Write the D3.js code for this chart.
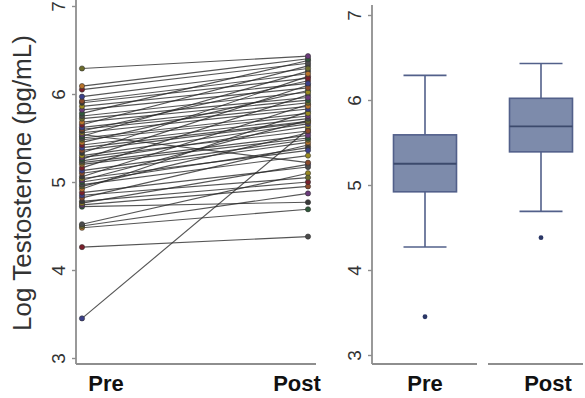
<!DOCTYPE html>
<html><head><meta charset="utf-8">
<script src="https://cdn.jsdelivr.net/npm/d3@7"></script>
<style>body{margin:0;background:#fff;} svg{display:block;}</style>
</head><body>
<svg id="c" width="585" height="398"></svg>
<script>
const groups = ["Pre", "Post"];
const yTicks = [3, 4, 5, 6, 7];
const preValues = [3.45,4.26,4.48,4.50,4.52,4.72,4.74,4.76,4.78,4.82,4.85,4.88,4.92,4.95,4.97,5.00,5.02,5.04,5.06,5.10,5.13,5.16,5.20,5.22,5.24,5.26,5.28,5.30,5.33,5.36,5.39,5.42,5.45,5.48,5.50,5.52,5.54,5.56,5.58,5.60,5.62,5.65,5.68,5.72,5.75,5.78,5.82,5.86,5.90,5.92,5.97,6.05,6.09,6.29];
const postValues = [5.60,4.38,4.69,4.87,5.10,4.77,4.95,5.20,5.00,5.42,5.05,5.17,5.80,5.56,5.30,5.39,5.70,5.36,5.88,5.45,5.48,5.99,5.50,5.53,5.63,6.10,5.58,5.66,6.20,5.68,5.69,5.72,6.04,5.75,5.78,6.26,5.22,5.83,6.15,5.86,5.90,6.32,5.93,5.96,6.02,6.38,6.07,6.12,6.18,6.23,6.29,6.35,6.40,6.43];
const dotColors = ["#3b3f8a","#7a1f2b","#b8732a","#6b6b2a","#4a4a4a","#2f5a3a","#6a3a7a","#9a8a20","#3a3a3a","#8a4a2a"];
// boxplot summary
const boxLow = [4.27, 4.69];
const boxQ1 = [4.92, 5.39];
const boxMedian = [5.25, 5.69];
const boxQ3 = [5.59, 6.02];
const boxHigh = [6.29, 6.43];
const boxOutliers = [[3.45], [4.38]];

const svg = d3.select("#c");
const axisColor = "#8e8e8e";
const textColor = "#333";

// ---------- left panel ----------
const yL = d3.scaleLinear().domain([3, 7]).range([358, 6]);
const xL = d3.scalePoint().domain(groups).range([82, 308]);
const xLabL = d3.scalePoint().domain(groups).range([106, 297]);

const left = svg.append("g");
left.append("line").attr("x1", 76).attr("x2", 76).attr("y1", 0).attr("y2", 364)
  .attr("stroke", axisColor).attr("stroke-width", 1.8);
left.append("line").attr("x1", 76).attr("x2", 316).attr("y1", 364).attr("y2", 364)
  .attr("stroke", axisColor).attr("stroke-width", 1.8);
const axL = left.append("g").attr("transform", "translate(76,0)")
  .call(d3.axisLeft(yL).tickValues(yTicks).tickSize(4).tickFormat(d3.format("d")));
axL.select(".domain").remove();
axL.selectAll(".tick line").attr("stroke", axisColor).attr("stroke-width", 1.4);
axL.selectAll(".tick text").attr("x", null).attr("dy", null)
  .attr("transform", "translate(-11,0) rotate(-90)")
  .attr("text-anchor", "middle").attr("fill", textColor)
  .style("font", "19px 'Liberation Sans', Arial, sans-serif");

const pairs = preValues.map((p, i) => ({pre: p, post: postValues[i], i}));
left.append("g").selectAll("line").data(pairs).join("line")
  .attr("x1", xL("Pre")).attr("x2", xL("Post"))
  .attr("y1", d => yL(d.pre)).attr("y2", d => yL(d.post))
  .attr("stroke", "#2a2a2a").attr("stroke-opacity", 0.8).attr("stroke-width", 1.15);
left.append("g").selectAll("circle").data(pairs).join("circle")
  .attr("cx", xL("Pre")).attr("cy", d => yL(d.pre)).attr("r", 2.6)
  .attr("fill", d => dotColors[d.i % dotColors.length]).attr("stroke", "#333").attr("stroke-width", 0.6);
left.append("g").selectAll("circle").data(pairs).join("circle")
  .attr("cx", xL("Post")).attr("cy", d => yL(d.post)).attr("r", 2.6)
  .attr("fill", d => dotColors[(d.i + 3) % dotColors.length]).attr("stroke", "#333").attr("stroke-width", 0.6);

left.append("g").selectAll("text").data(groups).join("text")
  .attr("x", d => xLabL(d)).attr("y", 391).attr("text-anchor", "middle")
  .attr("fill", "#111").style("font", "bold 22px 'Liberation Sans', Arial, sans-serif")
  .text(d => d);

svg.append("text").attr("transform", "translate(31,183) rotate(-90)")
  .attr("text-anchor", "middle").attr("fill", textColor)
  .style("font", "26px 'Liberation Sans', Arial, sans-serif")
  .text("Log Testosterone (pg/mL)");

// ---------- right panel ----------
const yR = d3.scaleLinear().domain([3, 7]).range([355, 15]);
const xR = d3.scalePoint().domain(groups).range([425, 541]);
const xLabR = d3.scalePoint().domain(groups).range([425, 548]);
const boxW = 63, capW = 43;
const right = svg.append("g");
right.append("line").attr("x1", 372).attr("x2", 372).attr("y1", 5).attr("y2", 364)
  .attr("stroke", axisColor).attr("stroke-width", 1.8);
right.append("line").attr("x1", 372).attr("x2", 477).attr("y1", 364).attr("y2", 364)
  .attr("stroke", axisColor).attr("stroke-width", 1.8);
right.append("line").attr("x1", 488).attr("x2", 583).attr("y1", 364).attr("y2", 364)
  .attr("stroke", axisColor).attr("stroke-width", 1.8);
const axR = right.append("g").attr("transform", "translate(372,0)")
  .call(d3.axisLeft(yR).tickValues(yTicks).tickSize(4).tickFormat(d3.format("d")));
axR.select(".domain").remove();
axR.selectAll(".tick line").attr("stroke", axisColor).attr("stroke-width", 1.4);
axR.selectAll(".tick text").attr("x", null).attr("dy", null)
  .attr("transform", "translate(-11,0) rotate(-90)")
  .attr("text-anchor", "middle").attr("fill", textColor)
  .style("font", "19px 'Liberation Sans', Arial, sans-serif");

const boxFill = "#7d8bab", boxStroke = "#52608a", medStroke = "#3c4a6c";
const boxes = groups.map((g, i) => ({g, lo: boxLow[i], q1: boxQ1[i], med: boxMedian[i], q3: boxQ3[i], hi: boxHigh[i], out: boxOutliers[i]}));
const bg = right.selectAll("g.box").data(boxes).join("g").attr("class", "box");
bg.append("line").attr("x1", d => xR(d.g)).attr("x2", d => xR(d.g))
  .attr("y1", d => yR(d.hi)).attr("y2", d => yR(d.q3)).attr("stroke", boxStroke).attr("stroke-width", 1.6);
bg.append("line").attr("x1", d => xR(d.g)).attr("x2", d => xR(d.g))
  .attr("y1", d => yR(d.q1)).attr("y2", d => yR(d.lo)).attr("stroke", boxStroke).attr("stroke-width", 1.6);
bg.append("line").attr("x1", d => xR(d.g) - capW / 2).attr("x2", d => xR(d.g) + capW / 2)
  .attr("y1", d => yR(d.hi)).attr("y2", d => yR(d.hi)).attr("stroke", boxStroke).attr("stroke-width", 1.6);
bg.append("line").attr("x1", d => xR(d.g) - capW / 2).attr("x2", d => xR(d.g) + capW / 2)
  .attr("y1", d => yR(d.lo)).attr("y2", d => yR(d.lo)).attr("stroke", boxStroke).attr("stroke-width", 1.6);
bg.append("rect").attr("x", d => xR(d.g) - boxW / 2).attr("width", boxW)
  .attr("y", d => yR(d.q3)).attr("height", d => yR(d.q1) - yR(d.q3))
  .attr("fill", boxFill).attr("stroke", boxStroke).attr("stroke-width", 1.6);
bg.append("line").attr("x1", d => xR(d.g) - boxW / 2).attr("x2", d => xR(d.g) + boxW / 2)
  .attr("y1", d => yR(d.med)).attr("y2", d => yR(d.med)).attr("stroke", medStroke).attr("stroke-width", 1.8);
bg.selectAll("circle").data(d => d.out.map(v => ({g: d.g, v}))).join("circle")
  .attr("cx", d => xR(d.g)).attr("cy", d => yR(d.v)).attr("r", 2.4).attr("fill", "#2b3766");

right.append("g").selectAll("text").data(groups).join("text")
  .attr("x", d => xLabR(d)).attr("y", 391).attr("text-anchor", "middle")
  .attr("fill", "#111").style("font", "bold 22px 'Liberation Sans', Arial, sans-serif")
  .text(d => d);
</script>
</body></html>
